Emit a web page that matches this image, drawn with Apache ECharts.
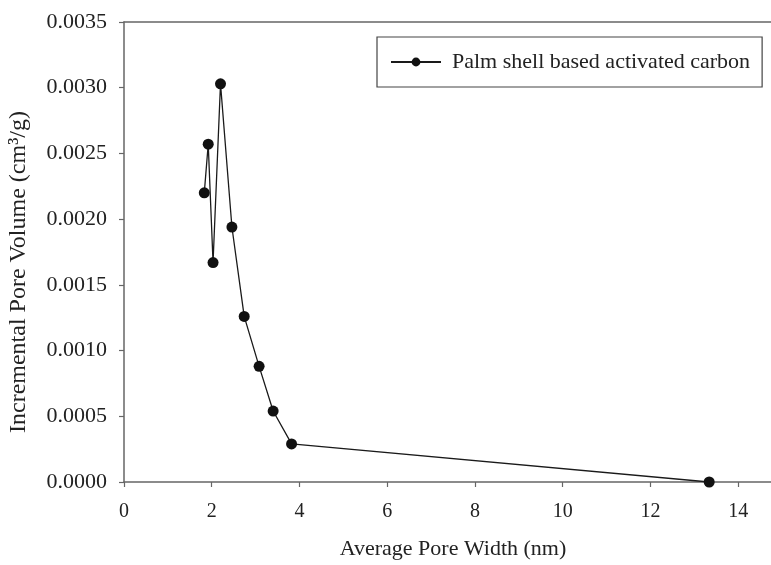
<!DOCTYPE html>
<html>
<head>
<meta charset="utf-8">
<script src="https://cdn.jsdelivr.net/npm/echarts@6/dist/echarts.min.js"></script>
<style>
html,body{margin:0;padding:0;background:#ffffff;}
#chart{width:771px;height:565px;}
</style>
</head>
<body>
<div id="chart"></div>
<script>
// pore width (nm) vs incremental pore volume (cm3/g)
var poreWidth = [1.83, 1.92, 2.03, 2.20, 2.46, 2.74, 3.08, 3.40, 3.82, 13.34];
var poreVolume = [0.00220, 0.00257, 0.00167, 0.00303, 0.00194, 0.00126, 0.00088, 0.00054, 0.00029, 0.0];
var seriesName = 'Palm shell based activated carbon';

var points = [];
for (var i = 0; i < poreWidth.length; i++) {
    points.push([poreWidth[i], poreVolume[i]]);
}

var font = '"Liberation Serif", "DejaVu Serif", serif';
var myChart = echarts.init(document.getElementById('chart'));

option = {
    backgroundColor: '#ffffff',
    animation: false,
    grid: {
        left: 124,
        top: 22,
        right: -11,
        bottom: 83,
        outerBoundsMode: 'none'
    },
    legend: {
        data: [seriesName],
        left: 377,
        top: 37,
        padding: [14, 12, 14, 13],
        borderColor: '#444',
        borderWidth: 1.2,
        borderRadius: 0,
        itemWidth: 50,
        itemHeight: 11,
        itemGap: 10,
        textStyle: {fontFamily: font, fontSize: 22, color: '#222', padding: [0, 0, 0, 6]}
    },
    xAxis: [
        {
            type: 'value',
            min: 0,
            max: 15,
            interval: 2,
            name: 'Average Pore Width (nm)',
            nameLocation: 'middle',
            nameGap: 56,
            nameTextStyle: {fontFamily: font, fontSize: 22, color: '#222'},
            splitLine: {show: false},
            axisLine: {lineStyle: {color: '#666', width: 1.5}},
            axisTick: {length: 5, lineStyle: {color: '#666', width: 1.2}},
            axisLabel: {fontFamily: font, fontSize: 20, color: '#222', margin: 20}
        },
        {
            type: 'value',
            position: 'top',
            min: 0,
            max: 15,
            splitLine: {show: false},
            axisLine: {show: true, lineStyle: {color: '#666', width: 1.5}},
            axisTick: {show: false},
            axisLabel: {show: false}
        }
    ],
    yAxis: {
        type: 'value',
        min: 0,
        max: 0.0035,
        interval: 0.0005,
        splitLine: {show: false},
        axisLine: {show: true, lineStyle: {color: '#666', width: 1.5}},
        axisTick: {show: true, length: 5, lineStyle: {color: '#666', width: 1.2}},
        axisLabel: {
            fontFamily: font, fontSize: 22, color: '#222', margin: 17,
            formatter: function (v) { return v.toFixed(4); }
        }
    },
    graphic: [
        {
            type: 'text',
            x: 19,
            y: 272,
            rotation: Math.PI / 2,
            style: {
                text: 'Incremental Pore Volume (cm³/g)',
                font: '24px ' + font,
                fill: '#222',
                align: 'center',
                verticalAlign: 'middle'
            }
        }
    ],
    series: [
        {
            name: seriesName,
            type: 'line',
            data: points,
            symbol: 'circle',
            symbolSize: 11,
            itemStyle: {color: '#111'},
            lineStyle: {color: '#1a1a1a', width: 1.3}
        }
    ]
};

myChart.setOption(option);
</script>
</body>
</html>
